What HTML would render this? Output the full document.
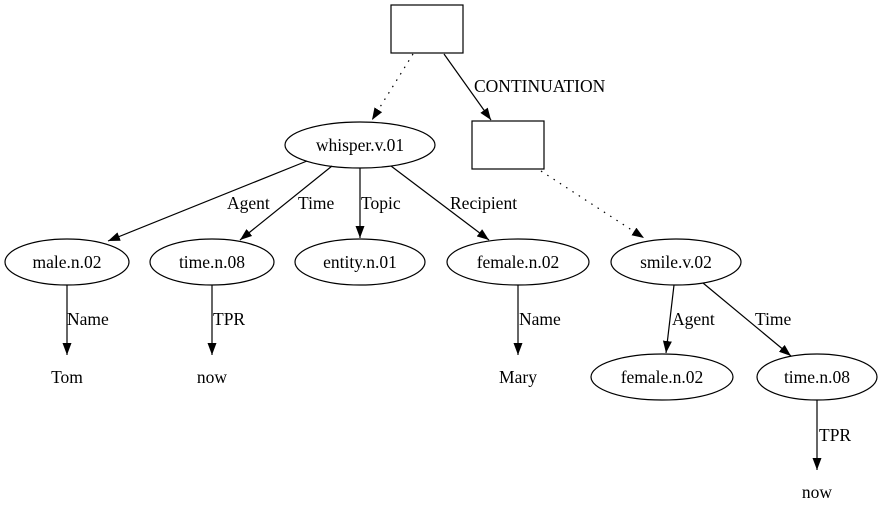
<!DOCTYPE html>
<html><head><meta charset="utf-8"><style>html,body{margin:0;padding:0;background:#fff}svg{display:block}text{font-family:"Liberation Serif",serif;font-size:17.5px;fill:#000}</style></head>
<body>
<svg width="883" height="523" viewBox="0 0 883 523" xmlns="http://www.w3.org/2000/svg">
<defs><marker id="a" markerUnits="userSpaceOnUse" markerWidth="12" markerHeight="10" refX="12" refY="4.5" orient="auto"><path d="M0,0 L12,4.5 L0,9 z" fill="#000"/></marker></defs>
<g fill="none" stroke="#000" stroke-width="1.2">
<rect x="391" y="5" width="72" height="48"/>
<rect x="472" y="121" width="72" height="48"/>
<ellipse cx="360" cy="145" rx="75" ry="23"/>
<ellipse cx="67" cy="262" rx="62" ry="23"/>
<ellipse cx="212" cy="262" rx="62" ry="23"/>
<ellipse cx="360" cy="262" rx="65" ry="23"/>
<ellipse cx="518" cy="262" rx="71" ry="23"/>
<ellipse cx="676" cy="262" rx="65" ry="23"/>
<ellipse cx="662" cy="377" rx="71" ry="23"/>
<ellipse cx="817" cy="377" rx="60" ry="23"/>
<path d="M413,54 L372,120" stroke-dasharray="1.5,6" marker-end="url(#a)"/>
<path d="M444,54 L491,120" marker-end="url(#a)"/>
<path d="M541,171 L644,238" stroke-dasharray="1.5,6" marker-end="url(#a)"/>
<path d="M307,161 L108,241" marker-end="url(#a)"/>
<path d="M332,166 L240,240" marker-end="url(#a)"/>
<path d="M360,168 L360,238" marker-end="url(#a)"/>
<path d="M391,166 L489,240" marker-end="url(#a)"/>
<path d="M67,285 L67,355" marker-end="url(#a)"/>
<path d="M212,285 L212,355" marker-end="url(#a)"/>
<path d="M518,285 L518,355" marker-end="url(#a)"/>
<path d="M674,285 L666,353" marker-end="url(#a)"/>
<path d="M703,283 L791,356" marker-end="url(#a)"/>
<path d="M817,400 L817,470" marker-end="url(#a)"/>
</g>
<g text-anchor="middle">
<text x="360" y="151">whisper.v.01</text>
<text x="67" y="268">male.n.02</text>
<text x="212" y="268">time.n.08</text>
<text x="360" y="268">entity.n.01</text>
<text x="518" y="268">female.n.02</text>
<text x="676" y="268">smile.v.02</text>
<text x="662" y="383">female.n.02</text>
<text x="817" y="383">time.n.08</text>
<text x="67" y="383">Tom</text>
<text x="212" y="383">now</text>
<text x="518" y="383">Mary</text>
<text x="817" y="498">now</text>
</g>
<g>
<text x="474" y="92">CONTINUATION</text>
<text x="227" y="209">Agent</text>
<text x="298" y="209">Time</text>
<text x="361" y="209">Topic</text>
<text x="450" y="209">Recipient</text>
<text x="67" y="325">Name</text>
<text x="213" y="325">TPR</text>
<text x="519" y="325">Name</text>
<text x="672" y="325">Agent</text>
<text x="755" y="325">Time</text>
<text x="819" y="441">TPR</text>
</g>
</svg>
</body></html>
